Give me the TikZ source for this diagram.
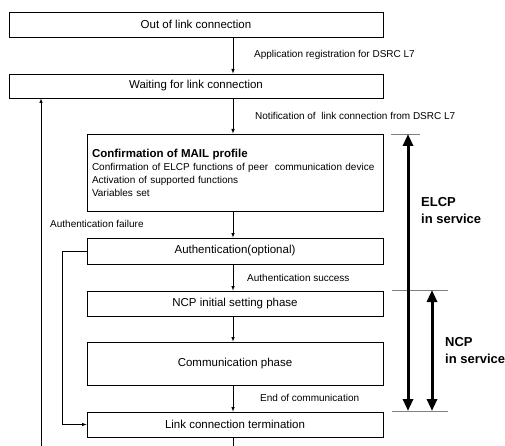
\documentclass[tikz,border=0pt]{standalone}
\usepackage{fontspec}
\setmainfont{Liberation Sans}
\usetikzlibrary{arrows,arrows.meta,positioning}

\begin{document}
\begin{tikzpicture}[x=1pt,y=-1pt,
  box/.style={draw, line width=0.8pt, minimum width=296pt, inner sep=0pt, font=\fontsize{11.5}{13}\selectfont},
  lbl/.style={anchor=west, inner sep=0pt, font=\fontsize{10}{12}\selectfont},
  flow/.style={->, >=latex, line width=0.6pt},
  tick/.style={draw, color=black!50, line width=0.6pt},
  span/.style={{Triangle[length=12pt,width=10pt]}-{Triangle[length=12pt,width=10pt]}, line width=3pt},
  big/.style={anchor=west, align=left, inner sep=0pt, font=\bfseries\fontsize{13}{17}\selectfont}]
\useasboundingbox (0,0) rectangle (505,446);
% boxes
\node[box, minimum width=374pt, minimum height=25pt] (out) at (196,24.5) {Out of link connection};
\node[box, minimum width=374pt, minimum height=24pt] (wait) at (196,86) {Waiting for link connection};
\node[box, minimum height=77pt, text width=286pt, inner xsep=5pt, align=left, font=\fontsize{10}{13}\selectfont] (mail) at (235,172.5)
  {{\bfseries\fontsize{11.5}{13}\selectfont Confirmation of MAIL profile}\\
   Confirmation of ELCP functions of peer~ communication device\\
   Activation of supported functions\\
   Variables set};
\node[box, minimum height=26pt] (auth) at (235,251) {Authentication(optional)};
\node[box, minimum height=25pt] (ncp) at (235,303.5) {NCP initial setting phase};
\node[box, minimum height=43pt] (comm) at (235,363.5) {Communication phase};
\node[box, minimum height=25pt] (term) at (235,424.5) {Link connection termination};
% flow
\coordinate (spine) at (233,0);
\coordinate (loop) at (41,446);
\coordinate (fail) at (62,0);
\draw[flow] (out.south -| spine) -- (wait.north -| spine);
\draw[flow] (wait.south -| spine) -- (mail.north -| spine);
\draw[flow] (mail.south -| spine) -- (auth.north -| spine);
\draw[flow] (auth.south -| spine) -- (ncp.north -| spine);
\draw[flow] (ncp.south -| spine) -- (comm.north -| spine);
\draw[flow] (comm.south -| spine) -- (term.north -| spine);
\draw[line width=0.6pt] (term.south -| spine) -- (spine |- loop);
\draw[flow] (loop) -- (loop |- wait.south);
\draw[flow] (auth.west) -- (auth.west -| fail) |- (term.west);
% labels
\node[lbl] (reg) at (254,55) {Application registration for DSRC L7};
\node[lbl] (notif) at (255,116) {Notification of~ link connection from DSRC L7};
\node[lbl] (failure) at (50,224) {Authentication failure};
\node[lbl] (success) at (247,278) {Authentication success};
\node[lbl] (end) at (260,398) {End of communication};
% service spans
\coordinate (elcpT) at (408,134);
\coordinate (elcpB) at (408,411);
\coordinate (ncpT) at (432,290);
\coordinate (ncpB) at (432,411);
\draw[tick] (391,134) -- (420,134);
\draw[tick] (392,290) -- (448,290);
\draw[tick] (392,411) -- (448,411);
\draw[span] (elcpT) -- (elcpB);
\draw[span] (ncpT) -- (ncpB);
\node[big] (elcp) at (421,211) {ELCP\\in service};
\node[big] (ncpsvc) at (445,351) {NCP\\in service};
\end{tikzpicture}
\end{document}
